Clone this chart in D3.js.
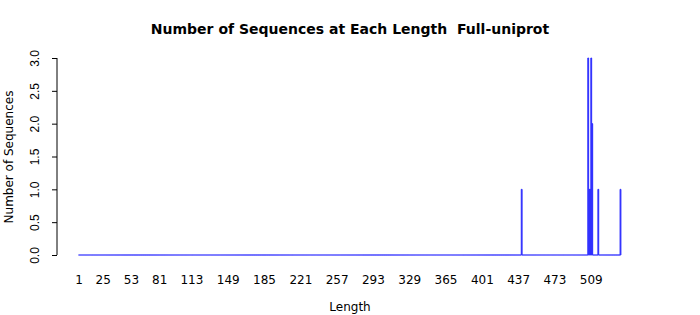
<!DOCTYPE html>
<html>
<head>
<meta charset="utf-8">
<script src="https://cdn.jsdelivr.net/npm/d3@7"></script>
<style>
  body { margin: 0; background: #fff; }
  svg { display: block; font-family: "DejaVu Sans", sans-serif; }
</style>
</head>
<body>
<svg id="chart" width="700" height="315"></svg>
<script>
// ---- data ----
const maxLength = 538;
const nonZeroLengths = [440, 506, 507, 508, 509, 510, 516, 538];
const nonZeroCounts  = [1,   3,   1,   1,   3,   2,   1,   1];
const xTickLabels = [1, 25, 53, 81, 113, 149, 185, 221, 257, 293, 329, 365, 401, 437, 473, 509];
const yTicks = [0, 0.5, 1, 1.5, 2, 2.5, 3];
const titleText = "Number of Sequences at Each Length  Full-uniprot";
const xLabel = "Length";
const yLabel = "Number of Sequences";

const lengths = d3.range(1, maxLength + 1);
const countMap = new Map(nonZeroLengths.map((l, i) => [l, nonZeroCounts[i]]));
const data = lengths.map(l => ({ len: l, count: countMap.get(l) || 0 }));

const svg = d3.select("#chart");

const x = d3.scaleBand().domain(lengths).range([78.5, 621]).padding(0);
const y = d3.scaleLinear().domain([0, 3]).range([255, 58]);
const bw = x.bandwidth() * 0.83;
const cx = l => x(l) + x.bandwidth() / 2;

// bars (as closed paths so zero-height bars still draw their border)
svg.append("g").selectAll("path").data(data).join("path")
  .attr("d", d => {
    const x0 = cx(d.len) - bw / 2, x1 = cx(d.len) + bw / 2;
    return `M${x0},${y(0)}H${x1}V${y(d.count)}H${x0}Z`;
  })
  .attr("fill", "#2a2aff")
  .attr("stroke", "#3030ff")
  .attr("stroke-width", 1);

// y axis
const yAxis = d3.axisLeft(y).tickValues(yTicks).tickSize(5).tickFormat(d3.format(".1f"));
const gy = svg.append("g").attr("transform", "translate(57,0)").call(yAxis);
gy.select(".domain").attr("d", `M0,${y(3)}V${y(0)}`).attr("stroke", "#000");
gy.selectAll(".tick line").attr("stroke", "#000");
gy.selectAll(".tick text").remove();
gy.selectAll(".tick").append("text")
  .attr("transform", "translate(-18,0) rotate(-90)")
  .attr("text-anchor", "middle")
  .attr("fill", "#000")
  .style("font-size", "12px")
  .text(d => d3.format(".1f")(d));

// x tick labels (no tick marks)
svg.append("g").selectAll("text").data(xTickLabels).join("text")
  .attr("x", d => cx(d))
  .attr("y", 284)
  .attr("text-anchor", "middle")
  .style("font-size", "12px")
  .attr("fill", "#000")
  .text(d => d);

// title
svg.append("text")
  .attr("x", 350).attr("y", 34)
  .attr("text-anchor", "middle")
  .style("font-size", "14px").style("font-weight", "bold")
  .style("white-space", "pre")
  .text(titleText);

// x label
svg.append("text")
  .attr("x", 350).attr("y", 311)
  .attr("text-anchor", "middle")
  .style("font-size", "12px")
  .text(xLabel);

// y label
svg.append("text")
  .attr("transform", `translate(13,157) rotate(-90)`)
  .attr("text-anchor", "middle")
  .style("font-size", "12px")
  .text(yLabel);
</script>
</body>
</html>
